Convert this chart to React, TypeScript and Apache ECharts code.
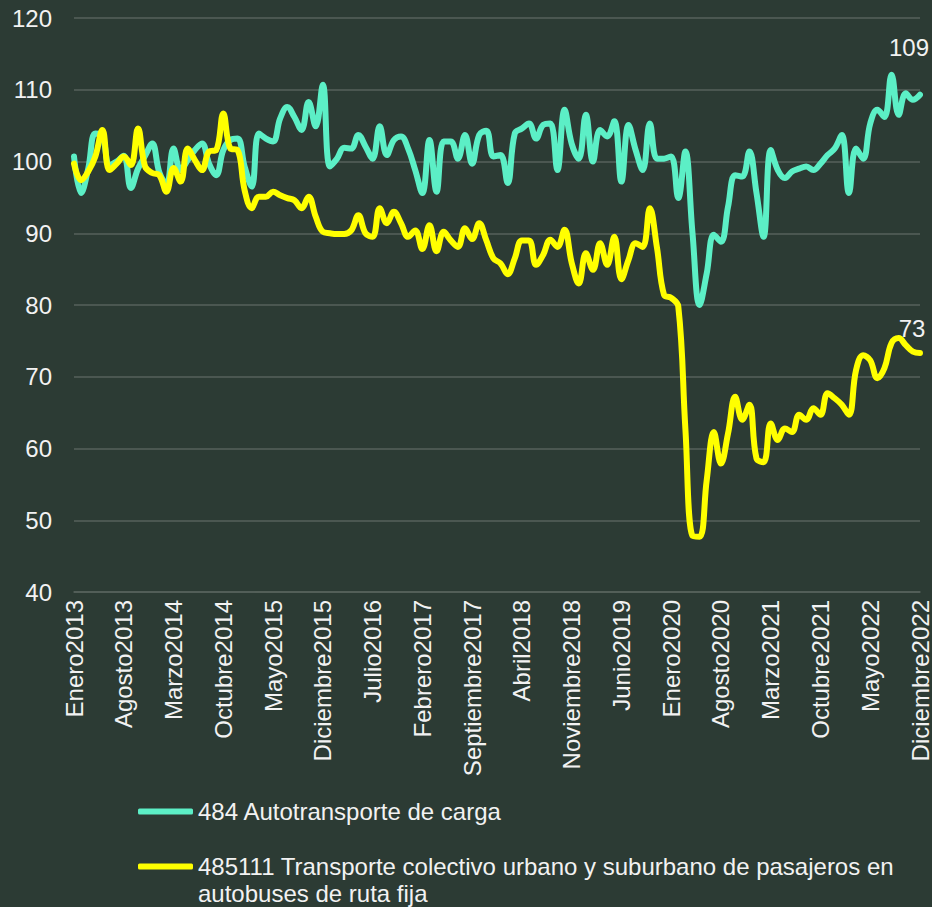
import React, { useEffect, useRef } from "react";
import * as echarts from "echarts";

const monthNames = ["Enero", "Febrero", "Marzo", "Abril", "Mayo", "Junio", "Julio", "Agosto", "Septiembre", "Octubre", "Noviembre", "Diciembre"];
const years = [2013, 2014, 2015, 2016, 2017, 2018, 2019, 2020, 2021, 2022];
const categories = years.flatMap((y) => monthNames.map((m) => m + y));

const seriesCargaName = "484 Autotransporte de carga";
const seriesColectivoName = "485111 Transporte colectivo urbano y suburbano de pasajeros en autobuses de ruta fija";

const carga = [
  100.7, 95.6, 99.0, 103.9, 103.5, 99.5, 100.0, 100.8, 96.3, 99.0, 100.8, 102.5,
  98.5, 96.8, 101.8, 98.8, 100.2, 101.6, 102.5, 99.7, 98.1, 101.6, 103.0, 103.2,
  99.3, 96.5, 103.9, 103.2, 102.8, 106.0, 107.6, 106.2, 104.4, 108.3, 104.9, 110.7,
  99.3, 100.4, 101.9, 101.8, 103.7, 102.1, 100.4, 104.9, 100.9, 103.0, 103.5, 101.8,
  98.8, 95.6, 103.0, 95.8, 102.8, 102.8, 100.4, 103.7, 99.7, 103.7, 104.3, 100.7,
  100.9, 97.0, 103.9, 104.6, 105.3, 103.2, 105.1, 105.3, 98.8, 107.2, 102.5, 100.4,
  106.5, 100.0, 104.4, 103.5, 105.6, 97.2, 105.1, 101.6, 98.8, 105.3, 100.4, 100.4,
  100.7, 94.9, 101.4, 90.0, 80.0, 84.4, 89.8, 88.8, 93.7, 98.1, 97.9, 101.4,
  95.6, 89.5, 101.6, 98.8, 97.7, 98.6, 99.0, 99.3, 98.8, 99.7, 100.9, 101.8,
  103.7, 95.6, 101.8, 100.4, 105.3, 107.2, 106.2, 112.1, 106.5, 109.5, 108.6, 109.3,
];

const colectivo = [
  99.7, 97.4, 98.6, 100.7, 104.4, 98.8, 99.7, 100.7, 99.5, 104.6, 99.3, 98.4,
  98.1, 95.8, 99.1, 97.2, 101.8, 100.2, 98.8, 101.4, 101.6, 106.7, 101.8, 101.6,
  96.0, 93.5, 95.1, 95.1, 95.8, 95.3, 94.9, 94.6, 93.5, 95.1, 92.3, 90.2,
  90.0, 89.9, 89.9, 90.4, 92.5, 90.0, 89.5, 93.5, 91.4, 93.0, 91.4, 89.5,
  90.4, 87.8, 91.1, 87.5, 90.2, 89.0, 88.1, 90.7, 89.2, 91.4, 89.0, 86.5,
  85.8, 84.3, 86.5, 89.0, 89.0, 85.6, 87.0, 89.1, 88.1, 90.5, 85.9, 83.0,
  87.2, 84.9, 88.6, 85.6, 89.5, 83.6, 86.3, 88.6, 88.1, 93.5, 88.0, 81.4,
  81.0, 79.8, 62.7, 47.8, 47.7, 55.6, 62.3, 57.9, 62.1, 67.2, 64.0, 66.1,
  58.6, 58.1, 63.5, 61.2, 62.8, 62.3, 64.7, 64.0, 65.6, 64.7, 67.7, 67.0,
  66.1, 64.7, 70.9, 73.0, 72.3, 69.8, 71.2, 74.7, 75.4, 74.4, 73.5, 73.3,
];

const yTicks = { min: 40, max: 120, interval: 10 };

const FONT = "'Liberation Sans', Arial, sans-serif";
const TEXT = "#f2f2f2";
const TEAL = "#5cefc6";
const YELLOW = "#ffff00";
const GRID = "#56625b";
const FS = 24;

function lastValueMark(values: number[], offset: number[]) {
  const last = values.length - 1;
  return {
    silent: true,
    symbol: "circle",
    symbolSize: 0,
    data: [{ coord: [last, values[last]], value: Math.round(values[last]) }],
    label: {
      show: true,
      position: "inside",
      offset,
      color: TEXT,
      fontSize: FS,
      fontFamily: FONT,
      formatter: "{c}",
    },
  };
}

export default function App() {
  const ref = useRef<HTMLDivElement>(null);
  useEffect(() => {
    if (!ref.current) return;
    const chart = echarts.init(ref.current, undefined, { renderer: "svg" });
    chart.setOption({
      animation: false,
      backgroundColor: "#2c3b34",
      textStyle: { fontFamily: FONT },
      grid: { left: 74, right: 8, top: 18, bottom: 315, containLabel: false },
      xAxis: {
        type: "category",
        data: categories,
        boundaryGap: false,
        axisLine: { show: true, lineStyle: { color: GRID, width: 1.5 } },
        axisTick: { show: false },
        axisLabel: {
          interval: 6,
          rotate: 90,
          margin: 8,
          color: TEXT,
          fontSize: FS,
          fontFamily: FONT,
        },
        splitLine: { show: false },
      },
      yAxis: {
        type: "value",
        min: yTicks.min,
        max: yTicks.max,
        interval: yTicks.interval,
        axisLine: { show: false },
        axisTick: { show: false },
        axisLabel: { color: TEXT, fontSize: FS, fontFamily: FONT, margin: 22 },
        splitLine: { show: true, lineStyle: { color: GRID, width: 1.5 } },
      },
      legend: [
        {
          data: [seriesCargaName],
          orient: "vertical",
          left: 138,
          top: 798,
          padding: 0,
          icon: "roundRect",
          itemWidth: 55,
          itemHeight: 6,
          textStyle: { color: TEXT, fontSize: FS, fontFamily: FONT, lineHeight: 27 },
        },
        {
          data: [seriesColectivoName],
          orient: "vertical",
          left: 138,
          top: 826,
          padding: 0,
          icon: "roundRect",
          itemWidth: 55,
          itemHeight: 6,
          formatter: () =>
            " \n485111 Transporte colectivo urbano y suburbano de pasajeros en\nautobuses de ruta fija",
          textStyle: { color: TEXT, fontSize: FS, fontFamily: FONT, lineHeight: 27 },
        },
      ],
      series: [
        {
          name: seriesCargaName,
          type: "line",
          data: carga,
          smooth: 0.4,
          showSymbol: false,
          symbol: "none",
          color: TEAL,
          lineStyle: { color: TEAL, width: 6, cap: "round", join: "round" },
          markPoint: lastValueMark(carga, [-11, -47]),
          z: 2,
        },
        {
          name: seriesColectivoName,
          type: "line",
          data: colectivo,
          smooth: 0.4,
          showSymbol: false,
          symbol: "none",
          color: YELLOW,
          lineStyle: { color: YELLOW, width: 6, cap: "round", join: "round" },
          markPoint: lastValueMark(colectivo, [-8, -25]),
          z: 3,
        },
      ],
    });
    return () => chart.dispose();
  }, []);
  return (
    <div
      ref={ref}
      style={{ position: "fixed", left: 0, top: 0, width: 932, height: 907 }}
    />
  );
}
